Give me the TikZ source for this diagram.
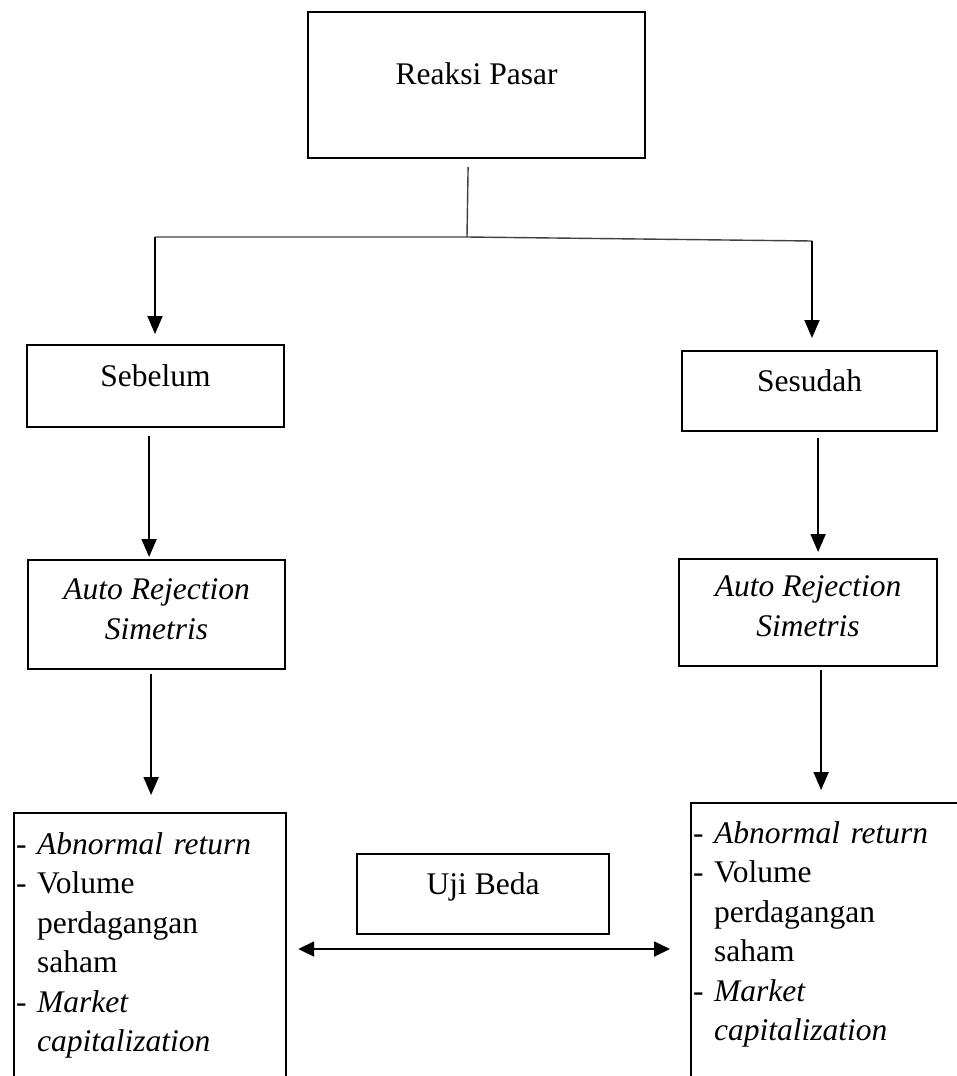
\documentclass[tikz,border=0pt]{standalone}
\usepackage{fontspec}
\setmainfont{Liberation Serif}
\usetikzlibrary{arrows.meta,calc}

\begin{document}
\begin{tikzpicture}[x=1pt,y=-1pt,
		kotak/.style={draw, line width=2.2pt, inner sep=0pt, align=center,
			font=\fontsize{31.5}{39.5}\selectfont},
		daftar/.style={kotak, align=left, inner xsep=2pt, anchor=north west},
		garis/.style={line width=1.4pt, black!75},
		panah/.style={line width=1.9pt, -{Triangle[length=18pt,width=15pt]}},
		panahdua/.style={line width=1.9pt, {Triangle[length=16pt,width=15pt]}-{Triangle[length=16pt,width=15pt]}}]
		\clip (0,0) rectangle (957,1076);
		%
		\node [kotak, anchor=north west, minimum width=337, text height=72, text depth=74] (reaksi) at (307,11) {Reaksi Pasar};
		\node [kotak, anchor=north west, minimum width=257, text height=41, text depth=41] (sebelum) at (26,344) {Sebelum};
		\node [kotak, anchor=north west, minimum width=255, text height=40, text depth=40] (sesudah) at (681,350) {Sesudah};
		\node [kotak, anchor=north west, minimum width=257, text height=79, text depth=30] (autoA) at (27,559) {\textit{Auto Rejection}\\\textit{Simetris}};
		\node [kotak, anchor=north west, minimum width=258, text height=77, text depth=30] (autoB) at (678,558) {\textit{Auto Rejection}\\\textit{Simetris}};
		\node [kotak, anchor=north west, minimum width=252, text height=40, text depth=40] (ujibeda) at (356,853) {Uji Beda};
		\node [daftar, text width=268, text height=41, text depth=300] (daftarA) at (13,812)
			{-~\textit{Abnormal return}\\-~Volume\\\phantom{-~}perdagangan\\\phantom{-~}saham\\-~\textit{Market}\\\phantom{-~}\textit{capitalization}};
		\node [daftar, text width=276, text height=40, text depth=266] (daftarB) at (690,802)
			{-~\textit{Abnormal return}\\-~Volume\\\phantom{-~}perdagangan\\\phantom{-~}saham\\-~\textit{Market}\\\phantom{-~}\textit{capitalization}};
		%
		\coordinate (cabang) at (467,237);
		\coordinate (kiri) at (155,237);
		\coordinate (kanan) at (812,241);
		\draw [garis] ($(reaksi.south)+(-8.5,8)$) -- (cabang);
		\draw [garis] (kiri) -- (cabang) -- (kanan);
		\draw [panah] (kiri) -- ($(kiri |- sebelum.north)+(0,-10)$);
		\draw [panah] (kanan) -- ($(kanan |- sesudah.north)+(0,-12)$);
		\draw [panah] ($(sebelum.south)+(-6.5,8)$) -- ($(sebelum.south |- autoA.north)+(-6.5,-2)$);
		\draw [panah] ($(sesudah.south)+(8.5,6)$) -- ($(sesudah.south |- autoB.north)+(8.5,-6)$);
		\draw [panah] ($(autoA.south)+(-5.5,4)$) -- ($(autoA.south |- daftarA.north)+(-5.5,-17)$);
		\draw [panah] ($(autoB.south)+(13,3)$) -- ($(autoB.south |- daftarB.north)+(13,-12)$);
		\draw [panahdua] ($(daftarA.north east)+(11,137)$) -- ($(daftarB.north west)+(-20,147)$);
	\end{tikzpicture}
\end{document}
